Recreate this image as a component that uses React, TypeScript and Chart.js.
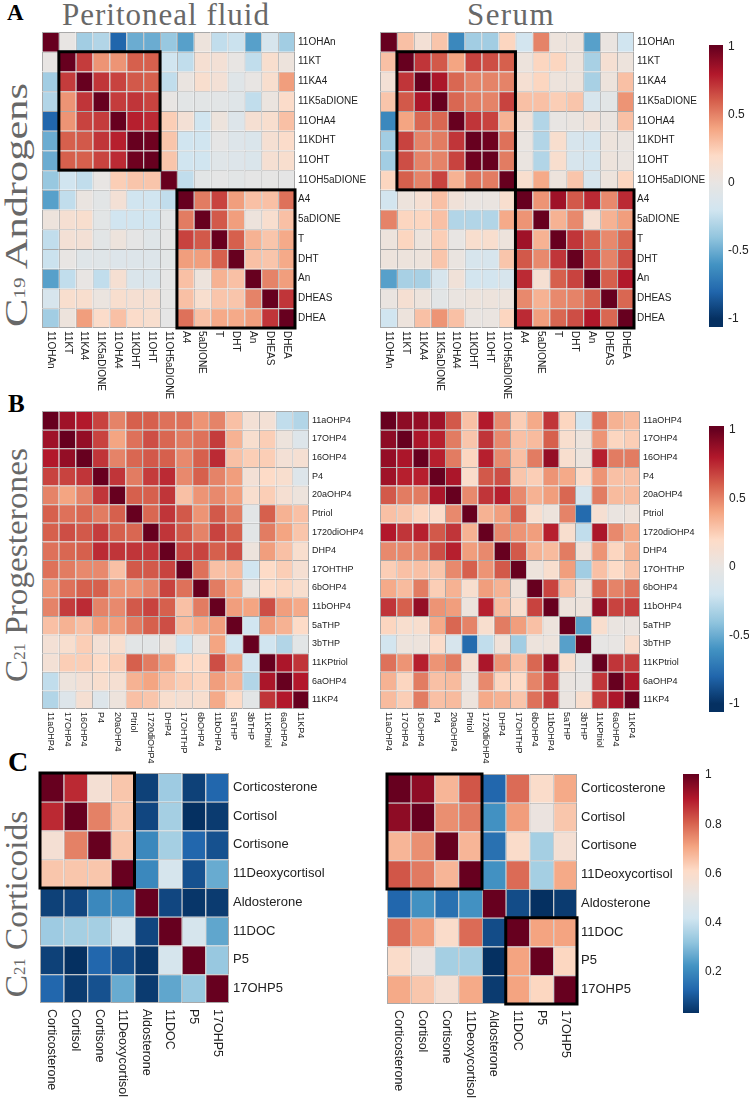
import React, { useEffect, useLayoutEffect, useRef } from 'react';
import { Chart, registerables } from 'chart.js';

Chart.register(...registerables);

const SANS = "'Liberation Sans', Arial, Helvetica, sans-serif";
const SERIF = "'Liberation Serif', 'Times New Roman', Times, serif";

// ---------- labels ----------
const androgenLabels = ['11OHAn', '11KT', '11KA4', '11K5aDIONE', '11OHA4', '11KDHT', '11OHT', '11OH5aDIONE', 'A4', '5aDIONE', 'T', 'DHT', 'An', 'DHEAS', 'DHEA'];
const progestLabels = ['11aOHP4', '17OHP4', '16OHP4', 'P4', '20aOHP4', 'Ptriol', '1720diOHP4', 'DHP4', '17OHTHP', '6bOHP4', '11bOHP4', '5aTHP', '3bTHP', '11KPtriol', '6aOHP4', '11KP4'];
const corticoidLabels = ['Corticosterone', 'Cortisol', 'Cortisone', '11Deoxycortisol', 'Aldosterone', '11DOC', 'P5', '17OHP5'];

// ---------- correlation values (lower triangles, row by row) ----------
const androgenPF = [
  [1],
  [0.0, 1],
  [-0.35, 0.7, 1],
  [-0.3, 0.45, 0.72, 1],
  [-0.8, 0.45, 0.68, 0.7, 1],
  [-0.5, 0.6, 0.62, 0.72, 0.78, 1],
  [-0.5, 0.6, 0.6, 0.68, 0.75, 0.98, 1],
  [-0.38, -0.2, -0.25, 0.0, 0.25, 0.28, 0.28, 1],
  [-0.55, -0.25, 0.02, -0.05, 0.1, -0.2, -0.2, -0.25, 1],
  [0.05, 0.12, 0.15, -0.05, -0.2, -0.2, -0.2, -0.05, 0.52, 1],
  [-0.25, 0.1, 0.1, -0.05, 0.05, -0.03, -0.08, -0.03, 0.68, 0.62, 1],
  [-0.22, 0.0, -0.08, -0.08, -0.1, -0.1, -0.1, -0.05, 0.42, 0.42, 0.6, 1],
  [-0.55, -0.25, 0.0, -0.25, 0.12, -0.12, -0.12, -0.03, 0.3, 0.05, 0.35, 0.3, 1],
  [-0.15, 0.15, 0.15, 0.03, 0.15, 0.12, 0.12, -0.02, 0.3, 0.15, 0.28, 0.28, 0.5, 1],
  [-0.35, 0.05, 0.42, 0.18, 0.3, 0.18, 0.15, -0.03, 0.55, 0.3, 0.38, 0.38, 0.42, 0.72, 1],
];
const androgenSerum = [
  [1],
  [0.3, 1],
  [0.1, 0.72, 1],
  [0.28, 0.62, 0.82, 1],
  [-0.65, 0.4, 0.58, 0.58, 1],
  [-0.35, 0.68, 0.5, 0.52, 0.72, 1],
  [-0.35, 0.65, 0.5, 0.5, 0.68, 0.98, 1],
  [0.22, 0.6, 0.5, 0.68, 0.35, 0.55, 0.52, 1],
  [-0.18, 0.05, 0.12, 0.3, 0.08, 0.02, 0.02, 0.15, 1],
  [0.5, 0.22, 0.22, 0.3, -0.3, -0.3, -0.3, 0.38, 0.45, 1],
  [0.05, 0.22, 0.05, 0.25, 0.0, 0.15, 0.15, 0.05, 0.85, 0.35, 1],
  [0.05, 0.05, 0.05, 0.28, 0.02, -0.15, -0.15, 0.28, 0.62, 0.48, 0.72, 1],
  [-0.55, -0.33, -0.33, -0.15, 0.08, -0.18, -0.18, -0.15, 0.75, 0.12, 0.6, 0.68, 1],
  [0.02, 0.12, 0.05, -0.05, 0.02, 0.05, 0.05, 0.05, 0.48, 0.35, 0.48, 0.5, 0.6, 1],
  [-0.2, 0.05, 0.3, 0.45, 0.3, 0.02, 0.02, 0.22, 0.75, 0.42, 0.58, 0.65, 0.8, 0.58, 1],
];
const progestPF = [
  [1],
  [0.85, 1],
  [0.8, 0.88, 1],
  [0.68, 0.68, 0.72, 1],
  [0.5, 0.4, 0.5, 0.72, 1],
  [0.6, 0.55, 0.58, 0.52, 0.6, 1],
  [0.6, 0.65, 0.62, 0.7, 0.6, 0.58, 1],
  [0.55, 0.58, 0.6, 0.75, 0.72, 0.72, 0.72, 1],
  [0.55, 0.52, 0.48, 0.48, 0.3, 0.62, 0.62, 0.68, 1],
  [0.45, 0.55, 0.6, 0.6, 0.45, 0.45, 0.5, 0.68, 0.55, 1],
  [0.5, 0.7, 0.75, 0.5, 0.48, 0.62, 0.68, 0.6, 0.3, 0.52, 1],
  [0.3, 0.35, 0.3, 0.42, 0.42, 0.52, 0.6, 0.65, 0.32, 0.38, 0.42, 1],
  [0.1, 0.15, 0.25, 0.1, 0.15, -0.05, -0.05, 0.05, -0.2, 0.02, 0.4, -0.2, 1],
  [0.1, 0.25, 0.25, 0.2, 0.25, 0.6, 0.52, 0.42, 0.2, 0.2, 0.65, 0.42, -0.2, 1],
  [-0.25, 0.05, 0.1, 0.15, 0.12, 0.35, 0.4, 0.3, 0.25, 0.22, 0.42, 0.35, -0.3, 0.82, 1],
  [-0.3, -0.1, 0.12, -0.1, 0.05, 0.3, 0.28, 0.15, 0.12, 0.15, 0.38, 0.2, -0.05, 0.72, 0.8, 1],
];
const progestSerum = [
  [1],
  [0.9, 1],
  [0.88, 0.82, 1],
  [0.85, 0.78, 0.78, 1],
  [0.62, 0.52, 0.52, 0.82, 1],
  [0.3, 0.28, 0.22, 0.18, 0.48, 1],
  [0.8, 0.72, 0.78, 0.62, 0.72, 0.35, 1],
  [0.48, 0.48, 0.48, 0.65, 0.78, 0.42, 0.48, 1],
  [0.25, 0.3, 0.3, 0.28, 0.48, 0.6, 0.45, 0.62, 1],
  [0.38, 0.32, 0.52, 0.25, 0.35, 0.15, 0.42, 0.35, 0.05, 1],
  [0.72, 0.6, 0.88, 0.45, 0.42, 0.05, 0.78, 0.32, 0.15, 0.68, 1],
  [0.22, 0.15, 0.15, 0.38, 0.58, 0.5, 0.15, 0.52, 0.42, 0.3, 0.05, 1],
  [-0.18, 0.05, 0.05, 0.18, -0.15, -0.78, -0.25, 0.08, -0.35, 0.05, 0.05, -0.55, 1],
  [0.55, 0.45, 0.78, 0.45, 0.52, 0.12, 0.82, 0.45, 0.3, 0.58, 0.88, 0.15, -0.02, 1],
  [0.35, 0.22, 0.52, 0.3, 0.32, 0.02, 0.48, 0.22, 0.2, 0.5, 0.68, 0.02, 0.0, 0.72, 1],
  [0.32, 0.25, 0.52, 0.3, 0.32, 0.05, 0.38, 0.35, 0.28, 0.55, 0.7, 0.02, 0.15, 0.7, 0.82, 1],
];
const corticoidPF = [
  [1],
  [0.88, 1],
  [0.57, 0.76, 1],
  [0.65, 0.65, 0.65, 1],
  [0.06, 0.07, 0.2, 0.2, 1],
  [0.34, 0.35, 0.35, 0.44, 0.07, 1],
  [0.06, 0.03, 0.13, 0.09, 0.04, 0.44, 1],
  [0.13, 0.05, 0.09, 0.27, 0.05, 0.26, 0.33, 1],
];
const corticoidSerum = [
  [1],
  [0.95, 1],
  [0.68, 0.74, 1],
  [0.82, 0.77, 0.68, 1],
  [0.13, 0.22, 0.15, 0.22, 1],
  [0.79, 0.72, 0.6, 0.79, 0.08, 1],
  [0.6, 0.53, 0.35, 0.35, 0.03, 0.71, 1],
  [0.7, 0.65, 0.57, 0.7, 0.05, 0.71, 0.62, 1],
];

// cluster boxes [first index, last index]
const androgenPFBoxes = [[1, 6], [8, 14]];
const androgenSerumBoxes = [[1, 7], [8, 14]];
const corticoidPFBoxes = [[0, 3]];
const corticoidSerumBoxes = [[0, 3], [5, 7]];

// colour-bar ticks
const corrTicks = [1, 0.5, 0, -0.5, -1];
const corticoidTicks = [1, 0.8, 0.6, 0.4, 0.2];
const corrRange = [-1, 1];
const corticoidRange = [0.03, 1];

// ---------- palette ----------
const paletteStops = [-1, -0.8, -0.6, -0.4, -0.2, 0, 0.2, 0.4, 0.6, 0.8, 1];
const paletteColors = ['#053061', '#2166ac', '#4393c3', '#92c5de', '#d1e5f0', '#e8e5e3', '#fddbc7', '#f4a582', '#d6604d', '#b2182b', '#67001f'];

function hexToRgb(h: string) {
  const n = parseInt(h.slice(1), 16);
  return [(n >> 16) & 255, (n >> 8) & 255, n & 255];
}
const paletteRgb = paletteColors.map(hexToRgb);

function colorFor(v: number, lo: number, hi: number) {
  let t = (2 * (v - lo)) / (hi - lo) - 1;
  t = Math.max(-1, Math.min(1, t));
  let k = 0;
  while (k < paletteStops.length - 2 && t > paletteStops[k + 1]) k++;
  const f = (t - paletteStops[k]) / (paletteStops[k + 1] - paletteStops[k]);
  const a = paletteRgb[k];
  const b = paletteRgb[k + 1];
  const c = a.map((x, i) => Math.round(x + (b[i] - x) * f));
  return `rgb(${c[0]},${c[1]},${c[2]})`;
}

function symmetric(tri: number[][]) {
  const n = tri.length;
  return tri.map((_, r) => Array.from({ length: n }, (_, c) => (r >= c ? tri[r][c] : tri[c][r])));
}

// ---------- heatmap ----------
type HeatProps = {
  labels: string[];
  tri: number[][];
  range: number[];
  left: number;
  top: number;
  width: number;
  height: number;
  labelWidth: number;
  bottomHeight: number;
  fontSize: number;
  bottomFont: number;
  tickPad: number;
  bottomPad: number;
  boxes?: number[][];
};

const PAD = 4;

function Heatmap(p: HeatProps) {
  const ref = useRef<HTMLCanvasElement>(null);
  useEffect(() => {
    const n = p.labels.length;
    const matrix = symmetric(p.tri);
    const boxes = p.boxes || [];
    const boxPlugin = {
      id: 'clusterBoxes',
      afterDatasetsDraw(chart: any) {
        const { ctx } = chart;
        const x = chart.scales.x;
        const y = chart.scales.y;
        const half = (x.getPixelForValue(1) - x.getPixelForValue(0)) / 2;
        ctx.save();
        ctx.strokeStyle = '#000';
        ctx.lineWidth = 3;
        boxes.forEach(([a, b]) => {
          const x0 = x.getPixelForValue(a) - half;
          const x1 = x.getPixelForValue(b) + half;
          const y0 = y.getPixelForValue(a);
          const y1 = y.getPixelForValue(b + 1);
          ctx.strokeRect(x0, y0, x1 - x0, y1 - y0);
        });
        ctx.restore();
      },
    };
    const bottomLabelPlugin = {
      id: 'bottomLabels',
      afterDraw(chart: any) {
        const { ctx, chartArea } = chart;
        const x = chart.scales.x;
        ctx.save();
        ctx.fillStyle = '#222';
        ctx.font = `${p.bottomFont}px ${SANS}`;
        ctx.textAlign = 'left';
        ctx.textBaseline = 'middle';
        p.labels.forEach((lab, i) => {
          ctx.save();
          ctx.translate(x.getPixelForValue(i), chartArea.bottom + p.bottomPad);
          ctx.rotate(Math.PI / 2);
          ctx.fillText(lab, 0, 0);
          ctx.restore();
        });
        ctx.restore();
      },
    };
    const chart = new Chart(ref.current as HTMLCanvasElement, {
      type: 'bar',
      data: {
        labels: p.labels,
        datasets: matrix.map((row, r) => ({
          data: p.labels.map(() => [r, r + 1]),
          backgroundColor: row.map((v) => colorFor(v, p.range[0], p.range[1])),
          borderColor: '#a9a9a9',
          borderWidth: (c: any) => ({
            top: 1,
            left: 1,
            right: c.dataIndex === n - 1 ? 1 : 0,
            bottom: c.datasetIndex === n - 1 ? 1 : 0,
          }),
          borderSkipped: false,
          grouped: false,
          barPercentage: 1,
          categoryPercentage: 1,
          inflateAmount: 0,
        })) as any,
      },
      options: {
        animation: false,
        responsive: true,
        maintainAspectRatio: false,
        events: [],
        layout: { padding: { top: PAD, left: PAD, right: 0, bottom: p.bottomHeight } },
        plugins: { legend: { display: false }, tooltip: { enabled: false } },
        scales: {
          x: { type: 'category', display: false },
          y: {
            type: 'linear',
            position: 'right',
            min: 0,
            max: n,
            reverse: true,
            grid: { display: false, drawTicks: false },
            border: { display: false },
            afterBuildTicks: (s: any) => {
              s.ticks = p.labels.map((_, i) => ({ value: i + 0.5 }));
            },
            afterFit: (s: any) => {
              s.width = p.labelWidth;
              s.paddingTop = 0;
              s.paddingBottom = 0;
            },
            ticks: {
              autoSkip: false,
              padding: p.tickPad,
              color: '#222',
              font: { family: SANS, size: p.fontSize },
              callback: (_v: any, i: number) => p.labels[i],
            },
          },
        },
      } as any,
      plugins: [boxPlugin, bottomLabelPlugin],
    });
    return () => chart.destroy();
  }, []);
  return (
    <div
      style={{
        position: 'absolute',
        left: p.left - PAD,
        top: p.top - PAD,
        width: PAD + p.width + p.labelWidth,
        height: PAD + p.height + p.bottomHeight,
      }}
    >
      <canvas ref={ref} />
    </div>
  );
}

// ---------- colour bar ----------
type BarProps = {
  left: number;
  top: number;
  barWidth: number;
  height: number;
  labelWidth: number;
  min: number;
  max: number;
  ticks: number[];
  range: number[];
  fontSize: number;
  tickPad: number;
};

const CB_PAD = 10;

function ColorBar(p: BarProps) {
  const ref = useRef<HTMLCanvasElement>(null);
  useEffect(() => {
    const chart = new Chart(ref.current as HTMLCanvasElement, {
      type: 'bar',
      data: {
        labels: [''],
        datasets: [
          {
            data: [[p.min, p.max]],
            backgroundColor: (c: any) => {
              const ch = c.chart;
              const y = ch.scales.y;
              if (!ch.chartArea || !y) return '#ccc';
              const top = y.getPixelForValue(p.max);
              const bottom = y.getPixelForValue(p.min);
              const g = ch.ctx.createLinearGradient(0, top, 0, bottom);
              const steps = 60;
              for (let k = 0; k <= steps; k++) {
                const v = p.range[0] + ((p.range[1] - p.range[0]) * k) / steps;
                let off = (y.getPixelForValue(v) - top) / (bottom - top);
                off = Math.max(0, Math.min(1, off));
                g.addColorStop(off, colorFor(v, p.range[0], p.range[1]));
              }
              return g;
            },
            borderWidth: 0,
            barPercentage: 1,
            categoryPercentage: 1,
            inflateAmount: 0,
          },
        ] as any,
      },
      options: {
        animation: false,
        responsive: true,
        maintainAspectRatio: false,
        events: [],
        layout: { padding: { top: CB_PAD, bottom: CB_PAD, left: 0, right: 0 } },
        plugins: { legend: { display: false }, tooltip: { enabled: false } },
        scales: {
          x: { type: 'category', display: false },
          y: {
            type: 'linear',
            position: 'right',
            min: p.min,
            max: p.max,
            grid: { display: false, drawTicks: false },
            border: { display: false },
            afterBuildTicks: (s: any) => {
              s.ticks = p.ticks.map((v) => ({ value: v }));
            },
            afterFit: (s: any) => {
              s.width = p.labelWidth;
              s.paddingTop = 0;
              s.paddingBottom = 0;
            },
            ticks: {
              autoSkip: false,
              padding: p.tickPad,
              color: '#222',
              font: { family: SANS, size: p.fontSize },
              callback: (v: any) => String(v),
            },
          },
        },
      } as any,
    });
    return () => chart.destroy();
  }, []);
  return (
    <div
      style={{
        position: 'absolute',
        left: p.left,
        top: p.top - CB_PAD,
        width: p.barWidth + p.labelWidth,
        height: p.height + 2 * CB_PAD,
      }}
    >
      <canvas ref={ref} />
    </div>
  );
}

// ---------- text pieces ----------
function Letter({ text, x, top, size }: { text: string; x: number; top: number; size: number }) {
  return (
    <div style={{ position: 'absolute', left: x, top, fontFamily: SERIF, fontWeight: 'bold', fontSize: size, lineHeight: 1, color: '#000' }}>
      {text}
    </div>
  );
}

function TopTitle({ text, x, top, spacing }: { text: string; x: number; top: number; spacing: number }) {
  return (
    <div
      style={{
        position: 'absolute',
        left: x,
        top,
        fontFamily: SERIF,
        fontSize: 31,
        lineHeight: 1,
        letterSpacing: spacing,
        whiteSpace: 'nowrap',
        color: '#686868',
      }}
    >
      {text}
    </div>
  );
}

function VTitle({ cx, cy, length, sub, main }: { cx: number; cy: number; length: number; sub: string; main: string }) {
  const ref = useRef<HTMLDivElement>(null);
  useLayoutEffect(() => {
    const el = ref.current as HTMLDivElement;
    const w = el.offsetWidth;
    el.style.transform = `translate(-50%, -50%) rotate(-90deg) scaleX(${length / w})`;
  }, []);
  return (
    <div
      ref={ref}
      style={{
        position: 'absolute',
        left: cx,
        top: cy,
        fontFamily: SERIF,
        fontSize: 32,
        lineHeight: 1,
        whiteSpace: 'nowrap',
        color: '#686868',
        transform: 'translate(-50%, -50%) rotate(-90deg)',
      }}
    >
      C
      <span style={{ fontSize: '0.5em', position: 'relative', top: '-0.12em' }}>{sub}</span>
      {' ' + main}
    </div>
  );
}

export default function App() {
  return (
    <div style={{ position: 'absolute', left: 0, top: 0, width: 749, height: 1100, overflow: 'hidden', background: '#fff' }}>
      {/* Panel A */}
      <Letter text="A" x={7} top={1} size={23} />
      <TopTitle text="Peritoneal fluid" x={62} top={-1.5} spacing={1} />
      <TopTitle text="Serum" x={467} top={-1.5} spacing={1.4} />
      <VTitle cx={16} cy={205} length={244} sub="19" main="Androgens" />
      <Heatmap labels={androgenLabels} tri={androgenPF} range={corrRange} left={42} top={32} width={253} height={296}
        labelWidth={85} bottomHeight={75} fontSize={10} bottomFont={10} tickPad={3} bottomPad={3} boxes={androgenPFBoxes} />
      <Heatmap labels={androgenLabels} tri={androgenSerum} range={corrRange} left={380} top={32} width={254} height={296}
        labelWidth={85} bottomHeight={75} fontSize={10} bottomFont={10} tickPad={3} bottomPad={3} boxes={androgenSerumBoxes} />
      <ColorBar left={709} top={45} barWidth={14} height={282} labelWidth={26} min={-1.06} max={1.015}
        ticks={corrTicks} range={corrRange} fontSize={12} tickPad={5} />

      {/* Panel B */}
      <Letter text="B" x={8} top={390.5} size={25} />
      <VTitle cx={16} cy={565} length={234} sub="21" main="Progesterones" />
      <Heatmap labels={progestLabels} tri={progestPF} range={corrRange} left={42} top={411} width={267} height={298}
        labelWidth={66} bottomHeight={60} fontSize={9} bottomFont={9} tickPad={3} bottomPad={3} />
      <Heatmap labels={progestLabels} tri={progestSerum} range={corrRange} left={380} top={411} width={260} height={298}
        labelWidth={66} bottomHeight={60} fontSize={9} bottomFont={9} tickPad={3} bottomPad={3} />
      <ColorBar left={709} top={426} barWidth={15} height={286} labelWidth={25} min={-1.06} max={1.03}
        ticks={corrTicks} range={corrRange} fontSize={12} tickPad={5} />

      {/* Panel C */}
      <Letter text="C" x={8} top={748} size={28} />
      <VTitle cx={16} cy={903.5} length={187} sub="21" main="Corticoids" />
      <Heatmap labels={corticoidLabels} tri={corticoidPF} range={corticoidRange} left={40} top={773} width={189} height={230}
        labelWidth={115} bottomHeight={95} fontSize={13} bottomFont={12.5} tickPad={4} bottomPad={6} boxes={corticoidPFBoxes} />
      <Heatmap labels={corticoidLabels} tri={corticoidSerum} range={corticoidRange} left={387} top={774} width={190} height={230}
        labelWidth={100} bottomHeight={95} fontSize={13} bottomFont={12.5} tickPad={4} bottomPad={6} boxes={corticoidSerumBoxes} />
      <ColorBar left={683} top={774} barWidth={16} height={239} labelWidth={40} min={0.033} max={1.004}
        ticks={corticoidTicks} range={corticoidRange} fontSize={12} tickPad={6} />
    </div>
  );
}
